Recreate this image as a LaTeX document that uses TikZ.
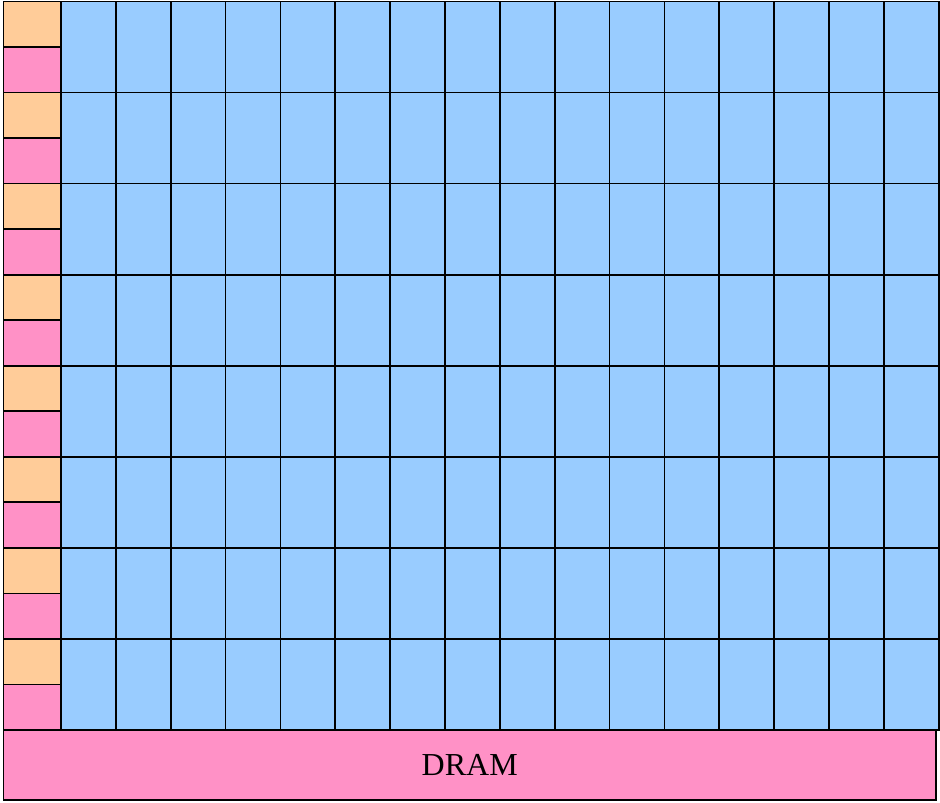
\documentclass[tikz,border=0pt]{standalone}
\usepackage{fontspec}
\setmainfont{Liberation Serif}
\definecolor{cellorange}{HTML}{FFCC99}
\definecolor{cellpink}{HTML}{FF91C6}
\definecolor{cellblue}{HTML}{99CCFF}
\begin{document}
\begin{tikzpicture}[x=1pt,y=-1pt,
  cellbox/.style={draw=black,line width=1.7pt,inner sep=0pt,outer sep=0pt,anchor=north west},
  pecell/.style={cellbox,fill=cellblue,minimum width=54.86pt,minimum height=91.06pt},
  sramcell/.style={cellbox,fill=cellorange,minimum width=57.5pt,minimum height=45.53pt},
  regcell/.style={cellbox,fill=cellpink,minimum width=57.5pt,minimum height=45.53pt},
  drambox/.style={cellbox,fill=cellpink,minimum width=932.5pt,minimum height=70pt,font=\fontsize{32}{36}\selectfont}]
\useasboundingbox (0,0) rectangle (940,803);
\foreach \r in {0,...,7}{
  \node[sramcell] (s\r) at (3.5,{1.5+\r*91.06}) {};
  \node[regcell] (p\r) at (3.5,{1.5+\r*91.06+45.53}) {};
  \foreach \c in {0,...,15}{
    \node[pecell] (b\r-\c) at ({61+\c*54.86},{1.5+\r*91.06}) {};
  }
}
\node[drambox] (dram) at (3.5,730) {DRAM};
\end{tikzpicture}
\end{document}
